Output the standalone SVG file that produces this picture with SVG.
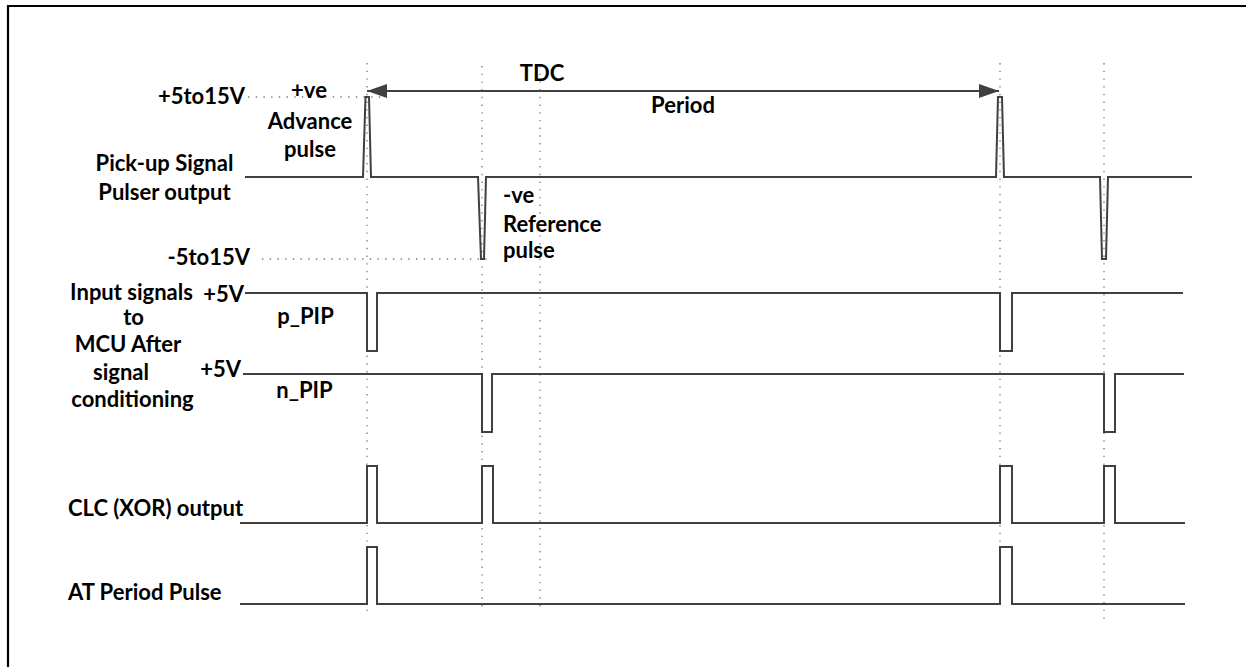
<svg xmlns="http://www.w3.org/2000/svg" width="1246" height="667" viewBox="0 0 1246 667">
  <style>
    .lbl { font-family: Lato, "Liberation Sans", Arial, sans-serif; font-weight: bold; font-size: 22px; fill: #000; }
    .mid { text-anchor: middle; }
    .end { text-anchor: end; }
    .wave { fill: none; stroke: #404040; stroke-width: 2; stroke-linejoin: miter; }
    .guide { fill: none; stroke: #7a7a7a; stroke-width: 1.3; stroke-dasharray: 1.4 6.3; }
    .dim { fill: none; stroke: #404040; stroke-width: 1.8; }
  </style>
  <defs>
    <marker id="arrowHead" viewBox="0 0 20 14" refX="20" refY="7" markerWidth="20" markerHeight="14" markerUnits="userSpaceOnUse" orient="auto-start-reverse">
      <path d="M0,0 L20,7 L0,14 Z" fill="#404040"/>
    </marker>
  </defs>

  <rect width="1246" height="667" fill="#fff"/>
  <!-- frame -->
  <path d="M8,667 V6 H1246" fill="none" stroke="#000" stroke-width="2.2"/>

  <!-- timing guides and the TDC period dimension -->
  <g id="connectors">
    <line class="guide" x1="367" y1="63" x2="367" y2="616"/>
    <line class="guide" x1="482" y1="66" x2="482" y2="612"/>
    <line class="guide" x1="540" y1="66" x2="540" y2="612"/>
    <line class="guide" x1="1000" y1="63" x2="1000" y2="608"/>
    <line class="guide" x1="1104" y1="63" x2="1104" y2="624"/>
    <line class="guide" x1="248" y1="97" x2="385" y2="97"/>
    <line class="guide" x1="262" y1="259" x2="493" y2="259"/>
    <line class="dim" x1="367" y1="91" x2="999" y2="91" marker-start="url(#arrowHead)" marker-end="url(#arrowHead)"/>
  </g>

  <g id="period-labels">
    <text class="lbl mid" x="542" y="81">TDC</text>
    <text class="lbl mid" x="683" y="113">Period</text>
  </g>

  <!-- pick-up signal -->
  <g id="pickup-signal">
    <text class="lbl mid" x="164.5" y="171">Pick-up Signal</text>
    <text class="lbl mid" x="164.5" y="200">Pulser output</text>
    <text class="lbl end" x="245" y="104">+5to15V</text>
    <text class="lbl end" x="250" y="265">-5to15V</text>
    <text class="lbl mid" x="309" y="98">+ve</text>
    <text class="lbl mid" x="310" y="129">Advance</text>
    <text class="lbl mid" x="310" y="157">pulse</text>
    <text class="lbl" x="503" y="203">-ve</text>
    <text class="lbl" x="503" y="232">Reference</text>
    <text class="lbl" x="503" y="258">pulse</text>
    <path class="wave" d="M245,177 H363 L365.5,97 H369 L371,177 H478 L481,259 H484 L486,177 H996 L998,97 H1002 L1004,177 H1100 L1102,259 H1106 L1108,177 H1192"/>
  </g>

  <!-- MCU inputs after conditioning -->
  <g id="mcu-inputs">
    <text class="lbl mid" x="131.5" y="300">Input signals</text>
    <text class="lbl mid" x="133.5" y="325">to</text>
    <text class="lbl mid" x="128" y="352">MCU After</text>
    <text class="lbl mid" x="121" y="380">signal</text>
    <text class="lbl mid" x="132.5" y="407">conditioning</text>
  </g>

  <g id="p-pip">
    <text class="lbl end" x="244" y="302">+5V</text>
    <text class="lbl mid" x="305.5" y="324">p_PIP</text>
    <path class="wave" d="M245,293 H367 V351 H377 V293 H1000 V351 H1012 V293 H1183"/>
  </g>

  <g id="n-pip">
    <text class="lbl end" x="241" y="377">+5V</text>
    <text class="lbl mid" x="304.5" y="398">n_PIP</text>
    <path class="wave" d="M243,374 H482 V432 H492 V374 H1104 V432 H1115 V374 H1184"/>
  </g>

  <g id="clc-xor">
    <text class="lbl" x="68" y="516">CLC (XOR) output</text>
    <path class="wave" d="M240,523 H367 V466 H377 V523 H482 V466 H493 V523 H1000 V466 H1012 V523 H1104 V466 H1115 V523 H1185"/>
  </g>

  <g id="at-period">
    <text class="lbl" x="68" y="600">AT Period Pulse</text>
    <path class="wave" d="M240,604 H367 V547 H377 V604 H1000 V547 H1012 V604 H1185"/>
  </g>
</svg>
